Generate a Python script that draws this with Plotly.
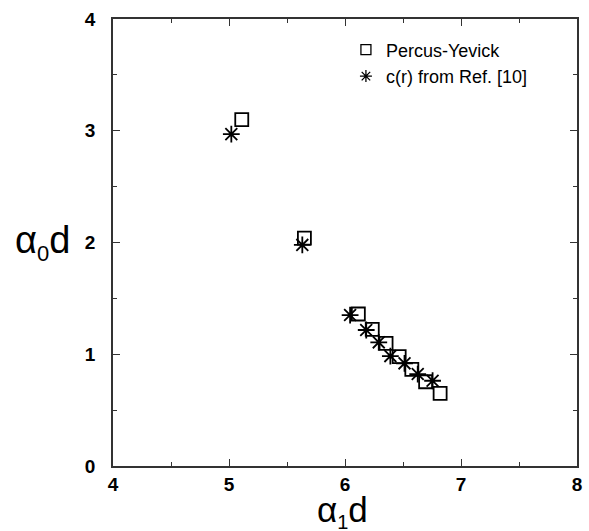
import plotly.graph_objects as go

# Percus-Yevick closure results
py_x = [5.11, 5.65, 6.115, 6.235, 6.354, 6.467, 6.576, 6.695, 6.82]
py_y = [3.10, 2.04, 1.36, 1.223, 1.098, 0.978, 0.865, 0.754, 0.65]

# direct correlation function c(r) from Ref. [10]
cr_x = [5.02, 5.632, 6.044, 6.183, 6.291, 6.391, 6.513, 6.627, 6.755]
cr_y = [2.97, 1.978, 1.351, 1.217, 1.107, 0.984, 0.919, 0.823, 0.763]

x_ticks = [4, 5, 6, 7, 8]
y_ticks = [0, 1, 2, 3, 4]

FONT = "Liberation Sans, Arial, Helvetica, sans-serif"
INK = "#000000"
AXIS = "#333333"

fig = go.Figure()

fig.add_trace(go.Scatter(
    x=py_x, y=py_y, mode="markers", showlegend=False,
    marker=dict(symbol="square-open", size=13, color=INK, line=dict(width=1.8, color=INK)),
))
fig.add_trace(go.Scatter(
    x=cr_x, y=cr_y, mode="markers", showlegend=False,
    marker=dict(symbol="asterisk-open", size=14, color=INK, line=dict(width=1.8, color=INK)),
))

# legend entries with compact symbols
fig.add_trace(go.Scatter(
    x=[None], y=[None], mode="markers", name="Percus-Yevick",
    marker=dict(symbol="square-open", size=10, color=INK, line=dict(width=1.3, color=INK)),
))
fig.add_trace(go.Scatter(
    x=[None], y=[None], mode="markers", name="c(r) from Ref. [10]",
    marker=dict(symbol="asterisk-open", size=10, color=INK, line=dict(width=1.3, color=INK)),
))

axis_common = dict(
    showline=True, linecolor=AXIS, linewidth=1.5, mirror="allticks",
    ticks="inside", ticklen=7, tickwidth=1.3, tickcolor=AXIS,
    showgrid=False, zeroline=False,
    tickfont=dict(family=FONT, size=19, color=INK, weight="bold"),
    minor=dict(ticks="inside", ticklen=4, tickwidth=1.2, tickcolor=AXIS, dtick=0.5, showgrid=False),
)

fig.update_xaxes(range=[4, 8], tickvals=x_ticks, ticktext=[str(v) for v in x_ticks],
                 ticklabelstandoff=0, **axis_common)
fig.update_yaxes(range=[0, 4], tickvals=y_ticks, ticktext=[str(v) for v in y_ticks],
                 ticklabelstandoff=12, **axis_common)

fig.add_annotation(
    text="α<sub><span style='font-size:22px'>0</span></sub>d", xref="paper", yref="y",
    x=-0.152, y=2.0, xanchor="center", yanchor="middle", showarrow=False,
    font=dict(family=FONT, size=38, color=INK),
)
fig.add_annotation(
    text="α<sub><span style='font-size:20px'>1</span></sub>d", xref="x", yref="paper",
    x=5.98, y=-0.049, xanchor="center", yanchor="top", showarrow=False,
    font=dict(family=FONT, size=35, color=INK),
)

fig.update_layout(
    width=589, height=531,
    margin=dict(l=113, r=7, t=19, b=65),
    paper_bgcolor="white", plot_bgcolor="white",
    legend=dict(
        x=0.502, y=0.972, xanchor="left", yanchor="top",
        bgcolor="rgba(0,0,0,0)", borderwidth=0,
        font=dict(family=FONT, size=18, color=INK),
        tracegroupgap=0, itemsizing="trace",
    ),
)

fig.write_html("out.html")
